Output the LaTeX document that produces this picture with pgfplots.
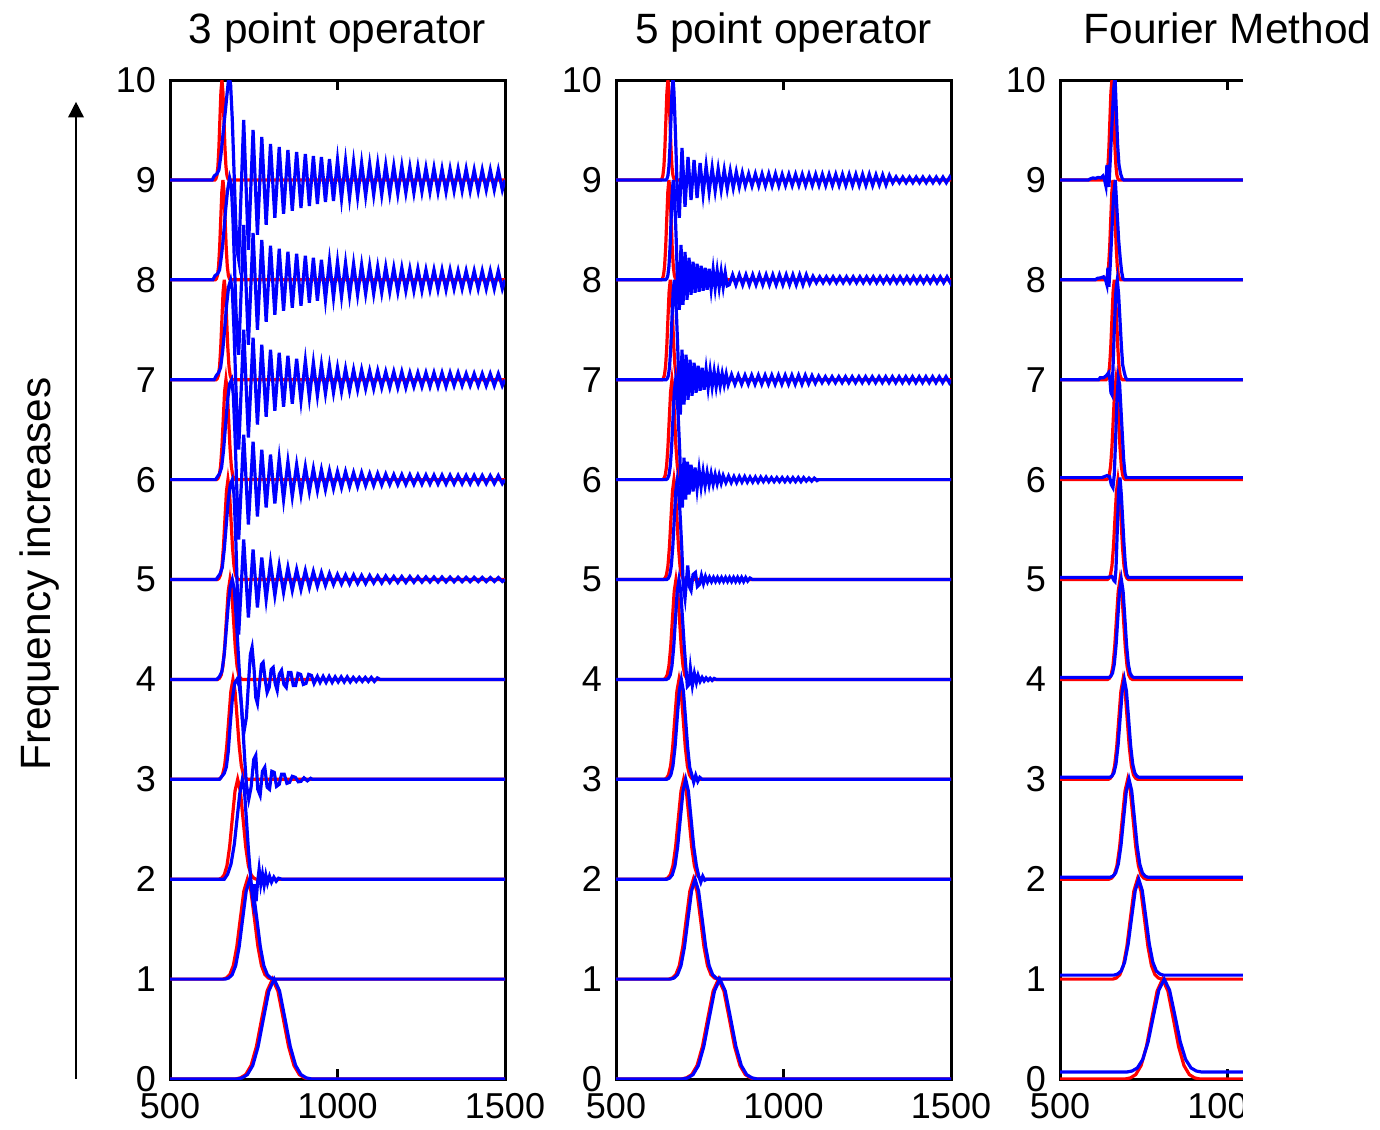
\documentclass[border=0pt]{standalone}
\usepackage{pgfplots}
\pgfplotsset{compat=1.18}
\usepackage{pgfplotstable}
\usepackage{fontspec}
\setmainfont{Liberation Sans}
\usetikzlibrary{arrows.meta}

\pgfplotsset{
  panel/.style={scale only axis, width=83.75pt, height=249.75pt, anchor=south west,
    xmin=500, xmax=1500, ymin=0, ymax=10,
    xtick={500,1000,1500}, ytick={0,1,...,10},
    tick align=inside, major tick length=2.5pt,
    axis line style={line width=0.75pt},
    every tick/.append style={line width=0.6pt, black},
    tick label style={font=\fontsize{9}{9}\selectfont},
    /pgf/number format/assume math mode=true,
    /pgf/number format/1000 sep={},
    title style={font=\fontsize{10.6}{12}\selectfont, at={(0.5,1)}, anchor=base, yshift=3.25pt},
    every axis plot/.append style={line width=0.8pt, mark=none}},
}

\pgfplotstableread[row sep=\\]{x y\\ 500 0\\ 694 0\\ 710 0.011\\ 726 0.044\\ 742 0.135\\ 758 0.325\\ 774 0.607\\ 790 0.882\\ 806 1\\ 822 0.882\\ 838 0.607\\ 854 0.325\\ 870 0.135\\ 886 0.044\\ 902 0.011\\ 918 0\\ 1500 0\\}\redA
\pgfplotstableread[row sep=\\]{x y\\ 500 1\\ 657.5 1\\ 668 1.011\\ 678.5 1.044\\ 689 1.135\\ 699.5 1.325\\ 710 1.607\\ 720.5 1.882\\ 731 2\\ 741.5 1.882\\ 752 1.607\\ 762.5 1.325\\ 773 1.135\\ 783.5 1.044\\ 794 1.011\\ 804.5 1\\ 1500 1\\}\redB
\pgfplotstableread[row sep=\\]{x y\\ 500 2\\ 646 2\\ 654 2.011\\ 662 2.044\\ 670 2.135\\ 678 2.325\\ 686 2.607\\ 694 2.882\\ 702 3\\ 710 2.882\\ 718 2.607\\ 726 2.325\\ 734 2.135\\ 742 2.044\\ 750 2.011\\ 758 2\\ 1500 2\\}\redC
\pgfplotstableread[row sep=\\]{x y\\ 500 3\\ 644.25 3\\ 650.5 3.011\\ 656.75 3.044\\ 663 3.135\\ 669.25 3.325\\ 675.5 3.607\\ 681.75 3.882\\ 688 4\\ 694.25 3.882\\ 700.5 3.607\\ 706.75 3.325\\ 713 3.135\\ 719.25 3.044\\ 725.5 3.011\\ 731.75 3\\ 1500 3\\}\redD
\pgfplotstableread[row sep=\\]{x y\\ 500 4\\ 642.25 4\\ 647.5 4.011\\ 652.75 4.044\\ 658 4.135\\ 663.25 4.325\\ 668.5 4.607\\ 673.75 4.882\\ 679 5\\ 684.25 4.882\\ 689.5 4.607\\ 694.75 4.325\\ 700 4.135\\ 705.25 4.044\\ 710.5 4.011\\ 715.75 4\\ 1500 4\\}\redE
\pgfplotstableread[row sep=\\]{x y\\ 500 5\\ 641.5 5\\ 646 5.011\\ 650.5 5.044\\ 655 5.135\\ 659.5 5.325\\ 664 5.607\\ 668.5 5.882\\ 673 6\\ 677.5 5.882\\ 682 5.607\\ 686.5 5.325\\ 691 5.135\\ 695.5 5.044\\ 700 5.011\\ 704.5 5\\ 1500 5\\}\redF
\pgfplotstableread[row sep=\\]{x y\\ 500 6\\ 639 6\\ 643 6.011\\ 647 6.044\\ 651 6.135\\ 655 6.325\\ 659 6.607\\ 663 6.882\\ 667 7\\ 671 6.882\\ 675 6.607\\ 679 6.325\\ 683 6.135\\ 687 6.044\\ 691 6.011\\ 695 6\\ 1500 6\\}\redG
\pgfplotstableread[row sep=\\]{x y\\ 500 7\\ 637.5 7\\ 641 7.011\\ 644.5 7.044\\ 648 7.135\\ 651.5 7.325\\ 655 7.607\\ 658.5 7.882\\ 662 8\\ 665.5 7.882\\ 669 7.607\\ 672.5 7.325\\ 676 7.135\\ 679.5 7.044\\ 683 7.011\\ 686.5 7\\ 1500 7\\}\redH
\pgfplotstableread[row sep=\\]{x y\\ 500 8\\ 635.25 8\\ 638.5 8.011\\ 641.75 8.044\\ 645 8.135\\ 648.25 8.325\\ 651.5 8.607\\ 654.75 8.882\\ 658 9\\ 661.25 8.882\\ 664.5 8.607\\ 667.75 8.325\\ 671 8.135\\ 674.25 8.044\\ 677.5 8.011\\ 680.75 8\\ 1500 8\\}\redI
\pgfplotstableread[row sep=\\]{x y\\ 500 9\\ 634 9\\ 637 9.011\\ 640 9.044\\ 643 9.135\\ 646 9.325\\ 649 9.607\\ 652 9.882\\ 655 10\\ 658 9.882\\ 661 9.607\\ 664 9.325\\ 667 9.135\\ 670 9.044\\ 673 9.011\\ 676 9\\ 1500 9\\}\redJ

\newcommand{\redtraces}{%
  \addplot[red] table {\redA};
  \addplot[red] table {\redB};
  \addplot[red] table {\redC};
  \addplot[red] table {\redD};
  \addplot[red] table {\redE};
  \addplot[red] table {\redF};
  \addplot[red] table {\redG};
  \addplot[red] table {\redH};
  \addplot[red] table {\redI};
  \addplot[red] table {\redJ};
}

\begin{document}
\begin{tikzpicture}
% ---------------- panel 1 ----------------
\begin{axis}[panel, at={(42.5pt,12.5pt)}, title={3 point operator}]
\redtraces
\addplot[blue] coordinates {(500,0) (699,0) (715,0.011) (731,0.044) (747,0.135) (763,0.325) (779,0.607) (795,0.882) (811,1) (827,0.882) (843,0.607) (859,0.325) (875,0.135) (891,0.044) (907,0.011) (923,0) (1500,0)};
\addplot[blue] coordinates {(500,1) (664.5,1) (675,1.011) (685.5,1.044) (696,1.135) (706.5,1.325) (717,1.607) (727.5,1.882) (738,2) (748.5,1.882) (759,1.607) (769.5,1.325) (780,1.135) (790.5,1.044) (801,1.011) (811.5,1) (1500,1)};
\addplot[blue] coordinates {(500,2) (662,2) (672,2.05) (682,2.15) (692,2.35) (700,2.6) (708,2.85) (716,3.0) (722,2.9) (728,2.6) (734,2.3) (740,2.05) (745,1.85) (749,1.76) (753,1.95) (757,1.78) (761,1.95) (766,2.1) (771,1.95) (776,2.05) (781,1.94) (786,2.04) (791,1.96) (797,2.03) (803,1.97) (810,2.02) (817,1.98) (824,2.01) (834,2.0) (1500,2)};
\addplot[blue] coordinates {(500,3) (648,3) (655,3.03) (662,3.06) (668,3.12) (674,3.28) (680,3.56) (686,3.8) (693,3.96) (700,4.0) (707,3.93) (713,3.75) (718,3.5) (723,3.2) (728,2.95) (735,2.8) (742,2.92) (750,3.2) (756,3.24) (762,2.9) (769,2.84) (776,3.08) (783,3.12) (790,2.92) (797,2.9) (804,3.08) (811,3.07) (818,2.93) (826,2.95) (833,3.05) (841,3.05) (849,2.96) (857,2.97) (865,3.03) (874,3.02) (883,2.975) (891,2.98) (900,3.015) (910,2.985) (920,3.01) (925,3.0) (1500,3)};
\addplot[blue] coordinates {(500,4) (640,4) (648,4.03) (655,4.08) (662,4.25) (668,4.5) (674,4.75) (680,4.93) (686,5.0) (692,4.9) (698,4.6) (704,4.25) (710,3.9) (716,3.6) (722,3.5) (728,3.62) (734,3.95) (740,4.25) (745,4.32) (751,4.1) (756,3.82) (761,3.76) (767,3.95) (773,4.15) (778,4.17) (784,4.0) (790,3.87) (796,3.92) (802,4.1) (808,4.12) (814,3.96) (820,3.89) (826,4.05) (833,4.09) (840,3.95) (847,3.92) (854,4.07) (861,4.07) (868,3.94) (875,3.94) (882,4.06) (890,4.05) (898,3.95) (906,3.96) (914,4.05) (922,4.04) (930,3.96) (940,4.03) (948,3.97) (957,4.03) (966,3.97) (975,4.03) (984,3.97) (993,4.025) (1002,3.975) (1011,4.025) (1020,3.975) (1029,4.025) (1038,3.975) (1047,4.02) (1056,3.98) (1065,4.02) (1074,3.98) (1083,4.02) (1092,3.98) (1101,4.02) (1110,3.98) (1119,4.015) (1127,4) (1500,4)};
\addplot[blue] coordinates {(500,5) (638,5) (644,5.03) (650,5.06) (656,5.12) (662,5.3) (668,5.55) (674,5.8) (680,5.95) (686,6.0) (691,5.85) (696,5.45) (700,5.0) (705,4.45) (720,5.40) (734,4.62) (748,5.30) (761,4.72) (774,5.22) (787,4.80) (800,5.17) (813,4.84) (826,5.14) (839,4.87) (852,5.12) (865,4.89) (878,5.10) (891,4.90) (904,5.09) (916,4.92) (928,5.08) (940,4.93) (952,5.07) (964,4.94) (976,5.06) (988,4.95) (1000,5.05) (1012,4.955) (1024,5.045) (1036,4.955) (1048,5.045) (1060,4.96) (1072,5.04) (1084,4.96) (1096,5.04) (1108,4.965) (1120,5.035) (1132,4.965) (1144,5.035) (1156,4.97) (1168,5.03) (1180,4.97) (1192,5.03) (1204,4.97) (1216,5.03) (1228,4.972) (1240,5.028) (1252,4.974) (1264,5.026) (1276,4.975) (1288,5.025) (1300,4.975) (1312,5.025) (1324,4.976) (1336,5.024) (1348,4.977) (1360,5.023) (1372,4.978) (1384,5.022) (1396,4.978) (1408,5.022) (1420,4.979) (1432,5.021) (1444,4.98) (1456,5.02) (1468,4.98) (1480,5.02) (1492,4.98) (1500,5)};
\addplot[blue] coordinates {(500,6) (636,6) (642,6.03) (648,6.06) (654,6.12) (660,6.3) (666,6.55) (672,6.8) (678,6.96) (684,7.0) (689,6.85) (694,6.45) (699,5.95) (705,5.4) (720,6.45) (734,5.55) (748,6.38) (761,5.63) (774,6.30) (787,5.72) (800,6.25) (813,5.76) (826,6.21) (839,5.80) (852,6.18) (865,5.83) (878,6.15) (891,5.85) (904,6.13) (916,5.88) (928,6.11) (940,5.89) (952,6.10) (964,5.90) (976,6.09) (988,5.91) (1000,6.08) (1012,5.92) (1024,6.08) (1036,5.93) (1048,6.07) (1060,5.93) (1072,6.07) (1084,5.94) (1096,6.06) (1108,5.94) (1120,6.06) (1132,5.945) (1144,6.055) (1156,5.95) (1168,6.05) (1180,5.95) (1192,6.05) (1204,5.952) (1216,6.048) (1228,5.953) (1240,6.047) (1252,5.954) (1264,6.046) (1276,5.955) (1288,6.045) (1300,5.955) (1312,6.045) (1324,5.956) (1336,6.044) (1348,5.957) (1360,6.043) (1372,5.958) (1384,6.042) (1396,5.958) (1408,6.042) (1420,5.959) (1432,6.041) (1444,5.96) (1456,6.04) (1468,5.96) (1480,6.04) (1492,5.96) (1500,6)};
\addplot[blue] coordinates {(500,7) (632,7) (638,7.04) (645,7.07) (651,7.12) (657,7.28) (663,7.5) (669,7.75) (675,7.93) (681,8.0) (686,7.9) (691,7.5) (696,7.0) (701,6.55) (705,6.30) (720,7.50) (734,6.42) (748,7.42) (761,6.55) (774,7.35) (787,6.63) (800,7.30) (813,6.69) (826,7.27) (839,6.73) (852,7.24) (865,6.76) (878,7.21) (891,6.79) (904,7.19) (916,6.82) (928,7.17) (940,6.84) (952,7.15) (964,6.86) (976,7.14) (988,6.87) (1000,7.12) (1012,6.88) (1024,7.11) (1036,6.89) (1048,7.10) (1060,6.90) (1072,7.10) (1084,6.91) (1096,7.09) (1108,6.91) (1120,7.09) (1132,6.92) (1144,7.08) (1156,6.92) (1168,7.08) (1180,6.92) (1192,7.08) (1204,6.92) (1216,7.07) (1228,6.93) (1240,7.07) (1252,6.93) (1264,7.07) (1276,6.93) (1288,7.07) (1300,6.93) (1312,7.07) (1324,6.93) (1336,7.07) (1348,6.94) (1360,7.07) (1372,6.94) (1384,7.06) (1396,6.94) (1408,7.06) (1420,6.94) (1432,7.06) (1444,6.94) (1456,7.06) (1468,6.94) (1480,7.06) (1492,6.94) (1500,7)};
\addplot[blue] coordinates {(500,8) (628,8) (634,8.04) (642,8.06) (648,8.1) (654,8.25) (660,8.45) (666,8.7) (672,8.9) (678,9.02) (683,8.95) (688,8.6) (693,8.1) (698,7.6) (702,7.35) (705,7.25) (720,8.55) (734,7.35) (748,8.47) (761,7.50) (774,8.40) (787,7.58) (800,8.34) (813,7.65) (826,8.31) (839,7.69) (852,8.28) (865,7.72) (878,8.26) (891,7.74) (904,8.24) (916,7.77) (928,8.22) (940,7.79) (952,8.20) (964,7.80) (976,8.19) (988,7.82) (1000,8.18) (1012,7.83) (1024,8.17) (1036,7.84) (1048,8.16) (1060,7.85) (1072,8.15) (1084,7.86) (1096,8.14) (1108,7.86) (1120,8.13) (1132,7.87) (1144,8.13) (1156,7.88) (1168,8.12) (1180,7.88) (1192,8.12) (1204,7.89) (1216,8.11) (1228,7.89) (1240,8.11) (1252,7.89) (1264,8.10) (1276,7.90) (1288,8.10) (1300,7.90) (1312,8.10) (1324,7.90) (1336,8.10) (1348,7.91) (1360,8.09) (1372,7.91) (1384,8.09) (1396,7.91) (1408,8.09) (1420,7.91) (1432,8.09) (1444,7.91) (1456,8.09) (1468,7.91) (1480,8.09) (1492,7.91) (1500,8)};
\addplot[blue] coordinates {(500,9) (626,9) (632,9.04) (640,9.06) (646,9.1) (652,9.25) (658,9.45) (664,9.65) (670,9.85) (676,10.05) (681,9.95) (686,9.6) (691,9.1) (696,8.6) (700,8.3) (705,8.20) (720,9.60) (734,8.30) (748,9.50) (761,8.45) (774,9.43) (787,8.55) (800,9.36) (813,8.62) (826,9.33) (839,8.66) (852,9.30) (865,8.69) (878,9.28) (891,8.72) (904,9.26) (916,8.74) (928,9.24) (940,8.76) (952,9.23) (964,8.78) (976,9.21) (988,8.79) (1000,9.20) (1012,8.81) (1024,9.19) (1036,8.82) (1048,9.18) (1060,8.83) (1072,9.17) (1084,8.84) (1096,9.16) (1108,8.85) (1120,9.16) (1132,8.85) (1144,9.15) (1156,8.86) (1168,9.14) (1180,8.86) (1192,9.14) (1204,8.87) (1216,9.13) (1228,8.87) (1240,9.13) (1252,8.88) (1264,9.12) (1276,8.88) (1288,9.12) (1300,8.88) (1312,9.11) (1324,8.88) (1336,9.11) (1348,8.89) (1360,9.11) (1372,8.89) (1384,9.11) (1396,8.89) (1408,9.10) (1420,8.89) (1432,9.10) (1444,8.90) (1456,9.10) (1468,8.90) (1480,9.10) (1492,8.90) (1500,9)};
\end{axis}
% ---------------- panel 2 ----------------
\begin{axis}[panel, at={(154pt,12.5pt)}, title={5 point operator}]
\redtraces
\addplot[blue] coordinates {(500,0) (698,0) (714,0.011) (730,0.044) (746,0.135) (762,0.325) (778,0.607) (794,0.882) (810,1) (826,0.882) (842,0.607) (858,0.325) (874,0.135) (890,0.044) (906,0.011) (922,0) (1500,0)};
\addplot[blue] coordinates {(500,1) (662.5,1) (673,1.011) (683.5,1.044) (694,1.135) (704.5,1.325) (715,1.607) (725.5,1.882) (736,2) (746.5,1.882) (757,1.607) (767.5,1.325) (778,1.135) (788.5,1.044) (799,1.011) (809.5,1) (1500,1)};
\addplot[blue] coordinates {(500,2) (652,2) (660,2.011) (668,2.044) (676,2.135) (684,2.325) (692,2.607) (700,2.882) (708,3) (716,2.882) (724,2.607) (732,2.325) (740,2.135) (747,2.03) (753,1.97) (759,2.03) (765,1.99) (771,2.0) (1500,2)};
\addplot[blue] coordinates {(500,3) (651,3) (657.5,3.011) (663.75,3.044) (670,3.135) (676.25,3.325) (682.5,3.607) (688.75,3.882) (695,4.0) (701.25,3.882) (707.5,3.607) (713.75,3.325) (720,3.12) (726,3.05) (732,2.97) (738,3.04) (744,2.98) (750,3.02) (757,3.0) (1500,3)};
\addplot[blue] coordinates {(500,4) (651,4) (656.5,4.011) (661.75,4.044) (667,4.135) (672.25,4.325) (677.5,4.607) (682.75,4.882) (688,5.0) (693.25,4.882) (698.5,4.607) (703.75,4.325) (709,4.1) (713,3.93) (718,3.95) (722,4.11) (728,3.94) (734,4.06) (740,3.97) (745,4.04) (751,3.98) (757,4.02) (763,3.985) (769,4.015) (775,3.99) (781,4.012) (787,3.99) (793,4.01) (799,4.0) (1500,4)};
\addplot[blue] coordinates {(500,5) (651.5,5) (656,5.011) (660.5,5.044) (665,5.135) (669.5,5.325) (674,5.607) (678.5,5.882) (683,6.0) (687.5,5.882) (692,5.607) (696.5,5.3) (701,4.92) (706,4.81) (714,5.14) (720,4.92) (724,4.89) (730,5.05) (737,5.07) (743,4.93) (749,4.95) (755,5.04) (761,4.96) (767,5.03) (773,4.975) (779,5.022) (785,4.978) (791,5.02) (797,4.98) (803,5.02) (809,4.98) (815,5.02) (821,4.98) (827,5.02) (833,4.98) (839,5.02) (845,4.98) (851,5.02) (857,4.98) (863,5.02) (869,4.98) (875,5.02) (881,4.98) (887,5.02) (893,4.985) (900,5.015) (907,5.0) (1500,5)};
\addplot[blue] coordinates {(500,6) (650,6) (654,6.011) (658,6.044) (662,6.135) (666,6.325) (670,6.607) (674,6.882) (678,7.0) (682,6.882) (686,6.607) (690,6.3) (694,5.9) (698,5.72) (703,6.22) (708,5.8) (713,6.18) (718,5.85) (724,6.15) (730,5.88) (736,6.12) (742,5.91) (748,6.1) (754,5.93) (760,6.08) (766,5.94) (772,6.07) (778,5.95) (784,6.06) (790,5.955) (796,6.05) (802,5.96) (808,6.045) (814,5.965) (820,6.04) (828,5.97) (836,6.035) (844,5.97) (852,6.03) (860,5.97) (868,6.03) (876,5.975) (884,6.03) (892,5.975) (900,6.025) (908,5.975) (916,6.025) (924,5.975) (932,6.025) (940,5.98) (948,6.025) (956,5.98) (964,6.02) (972,5.98) (980,6.02) (988,5.98) (996,6.02) (1004,5.98) (1012,6.02) (1020,5.98) (1028,6.02) (1036,5.98) (1044,6.02) (1052,5.98) (1060,6.02) (1068,5.985) (1076,6.015) (1084,5.985) (1092,6.015) (1100,5.99) (1105,6.0) (1500,6)};
\addplot[blue] coordinates {(500,7) (649.5,7) (653,7.011) (656.5,7.044) (660,7.135) (663.5,7.325) (667,7.607) (670.5,7.882) (674,8.0) (677.5,7.882) (681,7.607) (684.5,7.3) (688,6.9) (692,6.65) (697,7.3) (703,6.75) (709,7.25) (715,6.8) (721,7.2) (727,6.84) (733,7.17) (739,6.87) (745,7.14) (751,6.89) (757,7.12) (763,6.9) (769,7.1) (775,6.92) (781,7.09) (787,6.93) (793,7.08) (799,6.93) (805,7.07) (811,6.94) (817,7.06) (823,6.95) (829,7.055) (835,6.95) (845,7.05) (855,6.955) (865,7.045) (875,6.955) (885,7.045) (895,6.955) (905,7.045) (915,6.955) (925,7.045) (935,6.955) (945,7.045) (955,6.955) (965,7.045) (975,6.955) (985,7.045) (995,6.955) (1005,7.045) (1015,6.955) (1025,7.045) (1035,6.955) (1045,7.045) (1055,6.955) (1065,7.045) (1075,6.96) (1085,7.04) (1095,6.965) (1105,7.035) (1115,6.97) (1125,7.03) (1135,6.97) (1145,7.03) (1155,6.97) (1165,7.03) (1175,6.97) (1185,7.03) (1195,6.97) (1205,7.03) (1215,6.97) (1225,7.03) (1235,6.97) (1245,7.03) (1255,6.97) (1265,7.03) (1275,6.97) (1285,7.03) (1295,6.97) (1305,7.03) (1315,6.97) (1325,7.03) (1335,6.97) (1345,7.03) (1355,6.97) (1365,7.03) (1375,6.97) (1385,7.03) (1395,6.97) (1405,7.03) (1415,6.97) (1425,7.03) (1435,6.97) (1445,7.03) (1455,6.97) (1465,7.03) (1475,6.97) (1485,7.03) (1495,6.97) (1500,7)};
\addplot[blue] coordinates {(500,8) (648.25,8) (651.5,8.011) (654.75,8.044) (658,8.135) (661.25,8.325) (664.5,8.607) (667.75,8.882) (671,9.0) (674.25,8.882) (677.5,8.607) (680.75,8.3) (684,7.9) (689,7.7) (694,8.35) (700,7.75) (706,8.28) (712,7.8) (718,8.22) (724,7.85) (730,8.18) (736,7.87) (742,8.16) (748,7.88) (754,8.14) (760,7.89) (766,8.12) (772,7.9) (778,8.11) (784,7.91) (790,8.1) (796,7.92) (802,8.09) (808,7.925) (814,8.08) (820,7.93) (826,8.07) (832,7.94) (838,7.95) (848,8.05) (858,7.95) (868,8.05) (878,7.95) (888,8.05) (898,7.95) (908,8.05) (918,7.95) (928,8.05) (938,7.95) (948,8.05) (958,7.95) (968,8.05) (978,7.95) (988,8.05) (998,7.95) (1008,8.05) (1018,7.95) (1028,8.05) (1038,7.95) (1048,8.05) (1058,7.95) (1068,8.05) (1078,7.96) (1088,8.035) (1098,7.97) (1108,8.03) (1118,7.97) (1128,8.03) (1138,7.97) (1148,8.03) (1158,7.97) (1168,8.03) (1178,7.97) (1188,8.03) (1198,7.97) (1208,8.03) (1218,7.97) (1228,8.03) (1238,7.97) (1248,8.03) (1258,7.97) (1268,8.03) (1278,7.97) (1288,8.03) (1298,7.97) (1308,8.03) (1318,7.97) (1328,8.03) (1338,7.97) (1348,8.03) (1358,7.97) (1368,8.03) (1378,7.97) (1388,8.03) (1398,7.97) (1408,8.03) (1418,7.97) (1428,8.03) (1438,7.97) (1448,8.03) (1458,7.97) (1468,8.03) (1478,7.97) (1488,8.03) (1498,7.97) (1500,8)};
\addplot[blue] coordinates {(500,9) (649,9) (652,9.011) (655,9.044) (658,9.135) (661,9.325) (664,9.607) (667,9.882) (670,10.02) (673,9.882) (676,9.607) (679,9.3) (683,8.85) (689,8.62) (697,9.32) (706,8.73) (715,9.23) (724,8.8) (733,9.2) (742,8.82) (751,9.17) (760,8.86) (769,9.14) (778,8.88) (787,9.12) (796,8.89) (805,9.11) (814,8.9) (823,9.1) (832,8.91) (841,9.09) (850,8.92) (859,9.08) (868,8.93) (877,9.07) (886,8.94) (896,9.06) (906,8.94) (916,9.06) (926,8.94) (936,9.06) (946,8.94) (956,9.06) (966,8.94) (976,9.06) (986,8.94) (996,9.055) (1006,8.945) (1016,9.055) (1026,8.945) (1036,9.055) (1046,8.945) (1056,9.055) (1066,8.945) (1076,9.055) (1086,8.945) (1096,9.055) (1106,8.945) (1116,9.055) (1126,8.945) (1136,9.055) (1146,8.945) (1156,9.055) (1166,8.945) (1176,9.055) (1186,8.945) (1196,9.055) (1206,8.945) (1216,9.055) (1226,8.945) (1236,9.055) (1246,8.945) (1256,9.055) (1266,8.945) (1276,9.05) (1286,8.95) (1296,9.05) (1306,8.95) (1316,9.045) (1326,8.97) (1336,9.03) (1346,8.972) (1356,9.028) (1366,8.972) (1376,9.028) (1386,8.972) (1396,9.028) (1406,8.972) (1416,9.028) (1426,8.972) (1436,9.028) (1446,8.972) (1456,9.028) (1466,8.972) (1476,9.028) (1486,8.972) (1496,9.028) (1500,9)};
\end{axis}
% ---------------- panel 3 ----------------
\begin{axis}[panel, at={(265pt,12.5pt)}, title={Fourier Method}, xtick={500,1000}]
\redtraces
\addplot[blue] coordinates {(500,0.07) (699,0.07) (715,0.080) (731,0.111) (747,0.196) (763,0.372) (779,0.635) (795,0.890) (811,1.0) (827,0.890) (843,0.635) (859,0.372) (875,0.196) (891,0.111) (907,0.080) (923,0.07) (1500,0.07)};
\addplot[blue] coordinates {(500,1.04) (661.5,1.04) (672,1.051) (682.5,1.082) (693,1.170) (703.5,1.352) (714,1.623) (724.5,1.887) (735,2.0) (745.5,1.887) (756,1.623) (766.5,1.352) (777,1.170) (787.5,1.082) (798,1.051) (808.5,1.04) (1500,1.04)};
\addplot[blue] coordinates {(500,2.02) (650,2.02) (658,2.031) (666,2.063) (674,2.152) (682,2.339) (690,2.615) (698,2.884) (706,3.0) (714,2.884) (722,2.615) (730,2.339) (738,2.152) (746,2.063) (754,2.031) (762,2.02) (1500,2.02)};
\addplot[blue] coordinates {(500,3.02) (648.25,3.02) (654.5,3.031) (660.75,3.063) (667,3.152) (673.25,3.339) (679.5,3.615) (685.75,3.884) (692,4.0) (698.25,3.884) (704.5,3.615) (710.75,3.339) (717,3.152) (723.25,3.063) (729.5,3.031) (735.75,3.02) (1500,3.02)};
\addplot[blue] coordinates {(500,4.02) (646.25,4.02) (651.5,4.031) (656.75,4.063) (662,4.152) (667.25,4.339) (672.5,4.615) (677.75,4.884) (683,5.0) (688.25,4.884) (693.5,4.615) (698.75,4.339) (704,4.152) (709.25,4.063) (714.5,4.031) (719.75,4.02) (1500,4.02)};
\addplot[blue] coordinates {(500,5.02) (640,5.02) (655,5.03) (661,4.99) (664,4.98) (667,5.1) (671,5.5) (675,5.9) (679,6.02) (683,5.85) (687,5.6) (691,5.35) (695,5.15) (699,5.05) (704,5.02) (1500,5.02)};
\addplot[blue] coordinates {(500,6.02) (625,6.02) (640,6.04) (648,6.03) (653,5.95) (658,5.92) (662,6.05) (666,6.4) (670,6.8) (674,7.02) (678,6.95) (682,6.7) (686,6.45) (690,6.2) (694,6.06) (698,6.02) (1500,6.02)};
\addplot[blue] coordinates {(500,7) (615,7) (620,7.02) (630,7.02) (638,7.04) (645,7.07) (649,7.0) (652,6.87) (655,6.85) (658,7.1) (662,7.5) (667,7.9) (671,8.0) (675,7.85) (679,7.6) (683,7.35) (687,7.15) (692,7.07) (696,7.02) (700,7) (1500,7)};
\addplot[blue] coordinates {(500,8) (605,8) (612,8.015) (622,8.02) (630,8.03) (636,8.0) (640,7.95) (643,8.12) (646,7.93) (650,8.15) (655,8.5) (660,8.85) (665,9.0) (670,8.7) (675,8.4) (680,8.2) (684,8.08) (688,8.01) (692,8) (1500,8)};
\addplot[blue] coordinates {(500,9) (585,9) (590,9.01) (598,9.02) (606,9.015) (614,9.025) (622,9.02) (628,9.04) (633,9.0) (637,8.94) (640,9.15) (643,9.05) (646,8.93) (650,9.2) (655,9.55) (660,9.9) (664,10.05) (668,9.7) (672,9.35) (676,9.15) (681,9.06) (686,9.01) (690,9) (1500,9)};
\end{axis}
% the reference is cut off to the right of the third panel
\fill[white] (310.85pt,-5pt) rectangle (380pt,263.6pt);
% arrow and label
\draw[line width=0.4pt, -{Triangle[length=3.9pt,width=3.9pt]}] (19pt,12.5pt) -- (19pt,256.8pt);
\node[rotate=90, anchor=base, font=\fontsize{10.6}{12}\selectfont, inner sep=0pt] at (12.6pt,138.75pt) {Frequency increases};
\pgfresetboundingbox
\path[use as bounding box] (0,0) rectangle (345pt,282.25pt);
\end{tikzpicture}
\end{document}
